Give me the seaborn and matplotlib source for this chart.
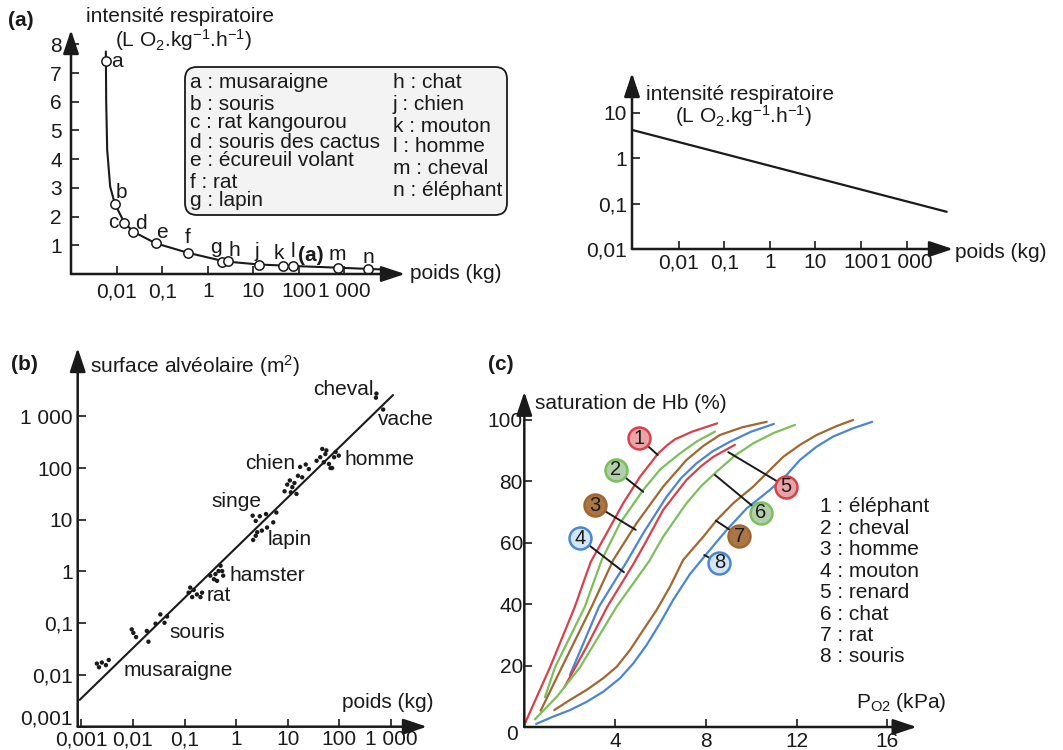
import numpy as np
import pandas as pd
import matplotlib
matplotlib.use("Agg")
import matplotlib.pyplot as plt
import seaborn as sns
from matplotlib.patches import FancyBboxPatch
from matplotlib.ticker import NullLocator
from matplotlib.transforms import IdentityTransform

# ---------------- data ----------------
# (a) left : intensite respiratoire vs poids
point_letters = ["a", "b", "c", "d", "e", "f", "g", "h", "j", "k", "l", "m", "n"]
point_poids = [0.0057, 0.009, 0.0145, 0.023, 0.071, 0.36, 2.0, 2.7, 13.5, 44, 73, 710, 3300]
point_intensite = [7.42, 2.44, 1.79, 1.47, 1.07, 0.74, 0.42, 0.46, 0.32, 0.29, 0.28, 0.22, 0.17]
curve_poids = [0.0057, 0.0058, 0.0061, 0.0071, 0.009, 0.0145, 0.023, 0.071, 0.36, 2.3, 13.5, 73, 710, 6300]
curve_intensite = [7.75, 6.0, 4.32, 3.04, 2.44, 1.79, 1.47, 1.07, 0.74, 0.44, 0.33, 0.28, 0.22, 0.16]
legend_a_left = ["a : musaraigne", "b : souris", "c : rat kangourou", "d : souris des cactus",
                 "e : écureuil volant", "f : rat", "g : lapin"]
legend_a_right = ["h : chat", "j : chien", "k : mouton", "l : homme", "m : cheval", "n : éléphant"]

# (a) right : log-log line
loglog_poids = [0.00093, 7600]
loglog_intensite = [4.2, 0.066]

# (b) surface alveolaire vs poids
b_species = (["musaraigne"] * 5 + ["souris"] * 9 + ["rat"] * 7 + ["hamster"] * 8 +
             ["singe/lapin"] * 11 + ["chien"] * 12 + ["homme"] * 12 + ["cheval"] * 2 + ["vache"])
b_poids = [0.0020, 0.0022, 0.0025, 0.0030, 0.0034,
           0.0095, 0.0102, 0.0115, 0.0186, 0.020, 0.0275, 0.034, 0.041, 0.046,
           0.129, 0.120, 0.151, 0.174, 0.204, 0.141, 0.219,
           0.316, 0.372, 0.398, 0.457, 0.50, 0.427, 0.562, 0.537,
           2.09, 2.40, 2.88, 2.57, 2.14, 3.16, 3.80, 3.98, 5.25, 6.03, 2.40,
           8.7, 9.8, 11.0, 12.3, 14.8, 13.5, 15.8, 19.1, 17.4, 22.4, 25.7, 11.5,
           36.3, 42.7, 46.8, 53.7, 50.1, 63.1, 67.6, 79.4, 85.1, 97.7, 56.2, 72.4,
           525, 513, 708]
b_surface = [0.0166, 0.0141, 0.0174, 0.0155, 0.0195,
             0.076, 0.065, 0.054, 0.071, 0.044, 0.098, 0.148, 0.102, 0.135,
             0.49, 0.39, 0.44, 0.36, 0.32, 0.32, 0.39,
             0.83, 0.71, 0.89, 1.02, 1.29, 0.66, 0.83, 1.02,
             12.0, 9.5, 11.7, 5.75, 4.07, 6.17, 12.9, 7.08, 8.91, 13.8, 4.90,
             35.5, 47.9, 57.5, 42.7, 31.6, 51.3, 70.8, 66.1, 105, 117, 95.5, 33.9,
             138, 162, 234, 186, 129, 120, 100, 162, 204, 174, 219, 100,
             2750, 2290, 1350]
b_line_poids = [0.00093, 1100]
b_line_surface = [0.0033, 2570]
b_names = ["cheval", "vache", "homme", "chien", "singe", "lapin", "hamster", "rat", "souris", "musaraigne"]
b_name_x = [464, 550, 129, 1.51, 0.33, 4.0, 0.75, 0.27, 0.05, 0.0067]
b_name_y = [3300, 870, 146, 120, 22.7, 4.07, 0.85, 0.35, 0.066, 0.0123]

# (c) saturation de Hb vs PO2
c_curves = {
    "1": ([0.0, 1.13, 2.23, 2.6, 2.93, 3.63, 4.36, 5.1, 5.9, 6.3, 6.64, 7.4, 8.5],
          [0.7, 19.4, 39.2, 47.0, 53.8, 63.1, 72.9, 81.5, 89.1, 91.8, 93.7, 96.2, 98.9]),
    "2": ([0.91, 1.35, 2.67, 3.41, 4.22, 5.24, 6.0, 6.86, 7.6, 8.4],
          [9.7, 19.4, 39.2, 54.4, 66.4, 77.2, 84.0, 89.1, 93.0, 96.2]),
    "3": ([0.72, 1.65, 2.97, 3.92, 4.95, 6.12, 7.15, 7.9, 8.62, 9.6, 10.68],
          [5.3, 19.4, 39.2, 54.4, 66.4, 78.3, 87.0, 91.6, 95.1, 97.6, 99.4]),
    "4": ([2.01, 3.29, 4.51, 5.24, 6.27, 6.9, 7.59, 8.3, 9.06, 10.0, 11.0],
          [16.9, 39.2, 53.8, 63.1, 75.0, 81.0, 85.9, 89.8, 92.9, 96.2, 98.7]),
    "5": ([1.76, 2.7, 3.66, 4.8, 5.32, 6.12, 7.15, 7.8, 8.33, 9.28],
          [12.9, 25.5, 39.2, 53.0, 59.8, 70.7, 80.5, 85.0, 88.0, 91.9]),
    "6": ([0.47, 1.45, 2.45, 4.07, 5.5, 6.12, 7.15, 7.8, 8.48, 9.3, 10.09, 11.0, 11.93],
          [2.5, 10.0, 19.4, 39.2, 54.0, 62.0, 72.9, 78.5, 83.2, 88.5, 92.4, 95.8, 98.4]),
    "7": ([1.32, 2.01, 2.75, 3.48, 4.07, 4.66, 5.24, 5.83, 6.42, 7.0, 7.89, 8.48, 9.21,
           10.09, 10.82, 11.41, 12.15, 12.88, 13.76, 14.49],
          [5.5, 8.8, 12.1, 15.9, 19.6, 25.1, 31.6, 38.1, 45.7, 54.4, 62.0, 67.4, 72.9,
           78.3, 83.7, 88.0, 91.9, 95.1, 98.0, 100.0]),
    "8": ([0.52, 1.28, 2.01, 2.75, 3.48, 4.22, 4.80, 5.39, 5.98, 6.56, 7.3, 8.18, 8.92,
           9.80, 10.82, 11.56, 12.15, 12.88, 13.61, 14.49, 15.33],
          [1.0, 3.4, 5.5, 8.2, 11.5, 15.9, 20.7, 26.7, 33.8, 41.4, 49.8, 57.7, 64.2,
           71.2, 77.2, 82.1, 87.0, 91.3, 94.6, 97.3, 99.4]),
}
c_names = ["1 : éléphant", "2 : cheval", "3 : homme", "4 : mouton",
           "5 : renard", "6 : chat", "7 : rat", "8 : souris"]
call_num = ["1", "2", "3", "4", "5", "6", "7", "8"]
call_x = [5.07, 4.03, 3.11, 2.45, 11.53, 10.41, 9.47, 8.59]
call_y = [94.0, 83.7, 72.3, 61.5, 78.3, 69.8, 62.2, 53.5]
lead_x = [5.88, 5.24, 4.91, 4.39, 8.99, 8.40, 8.44, 7.93]
lead_y = [88.6, 76.6, 64.2, 50.4, 89.5, 82.1, 67.2, 56.0]

# ---------------- style ----------------
W, H = 1063, 750
sns.set_theme(style="white")
plt.rcParams["font.family"] = ["Liberation Sans", "DejaVu Sans"]
plt.rcParams["mathtext.fontset"] = "custom"
plt.rcParams["mathtext.rm"] = "Liberation Sans"
plt.rcParams["mathtext.it"] = "Liberation Sans:italic"
plt.rcParams["mathtext.bf"] = "Liberation Sans:bold"
INK = "#1a1a1a"
FS = 15

red, green, brown, blue = "#d9414a", "#7cbf5b", "#a2672f", "#4a87d3"
curve_colors = {"1": red, "2": green, "3": brown, "4": blue,
                "5": red, "6": green, "7": brown, "8": blue}
fill_colors = {"1": "#eaa4a8", "2": "#b3ceaa", "3": "#a87647", "4": "#d5e5f6",
               "5": "#eaa4a8", "6": "#b3ceaa", "7": "#a87647", "8": "#d5e5f6"}

fig = plt.figure(figsize=(W / 100, H / 100), dpi=100)


def px_axes(x0, x1, ytop, ybot):
    return fig.add_axes([x0 / W, 1 - ybot / H, (x1 - x0) / W, (ybot - ytop) / H])


def ftext(x, y, s, **kw):
    kw.setdefault("fontsize", FS)
    kw.setdefault("va", "center")
    kw.setdefault("color", INK)
    fig.text(x / W, 1 - y / H, s, **kw)


def style(ax, padx, pady):
    for s in ax.spines.values():
        s.set_visible(False)
    ax.grid(False)
    ax.patch.set_alpha(0)
    ax.tick_params(direction="in", length=6, width=1.2, color=INK, labelsize=FS,
                   labelcolor=INK, bottom=True, left=True)
    ax.tick_params(axis="x", pad=padx)
    ax.tick_params(axis="y", pad=pady)
    ax.xaxis.set_minor_locator(NullLocator())
    ax.yaxis.set_minor_locator(NullLocator())
    ax.set_xlabel("")
    ax.set_ylabel("")
    for xy in [(1, 0), (0, 1)]:
        ax.annotate("", xy=xy, xytext=(0, 0), xycoords="axes fraction",
                    textcoords="axes fraction", annotation_clip=False,
                    arrowprops=dict(arrowstyle="-|>,head_length=0.9,head_width=0.3",
                                    lw=1.8, color=INK, shrinkA=0, shrinkB=0,
                                    mutation_scale=16))


# ---------------- (a) left ----------------
ax1 = px_axes(71, 405, 30, 274)
ax1.set_xscale("log")
ax1.set_xlim(10 ** -3.01, 10 ** 4.33)
ax1.set_ylim(0, 8.5)
sns.lineplot(x=curve_poids, y=curve_intensite, ax=ax1, color=INK, lw=1.5,
             sort=False, estimator=None)
sns.scatterplot(x=point_poids, y=point_intensite, ax=ax1, marker="o", s=45,
                facecolor="white", edgecolor=INK, linewidth=1.1, zorder=3)
ax1.set_xticks([0.01, 0.1, 1, 10, 100, 1000])
ax1.set_xticklabels(["0,01", "0,1", "1", "10", "100", "1 000"])
ax1.set_yticks(range(1, 9))
ax1.set_yticklabels([str(i) for i in range(1, 9)])
style(ax1, 6, 6.5)
letter_off = {"a": (11, 0), "b": (7, -11), "c": (-11, 0), "d": (8, -8), "e": (6, -11),
              "f": (0, -15), "g": (-6, -14), "h": (7, -10), "j": (-3, -13), "k": (-4, -12),
              "l": (0, -14), "m": (0, -13), "n": (0, -12)}
for L, w, v in zip(point_letters, point_poids, point_intensite):
    dx, dy = letter_off[L]
    ax1.annotate(L, (w, v), xytext=(dx * 0.72, -dy * 0.72), textcoords="offset points",
                 ha="center", va="center", fontsize=FS, color=INK)
ftext(8, 20, "(a)", fontweight="bold")
ftext(311, 255, "(a)", fontweight="bold", ha="center")
ftext(86, 17, "intensité respiratoire")
ftext(184, 40, r"(L O$_{\mathrm{2}}$.kg$^{-1}$.h$^{-1}$)", ha="center")
ftext(410, 274, "poids (kg)")

box = FancyBboxPatch((185, H - 215), 322, 148, boxstyle="round,pad=0,rounding_size=12",
                     transform=IdentityTransform(), facecolor="#f3f3f3",
                     edgecolor=INK, lw=1.3)
fig.add_artist(box)
for s, y in zip(legend_a_left, [83, 104, 123, 142, 161, 182, 201]):
    ftext(190, y, s)
for s, y in zip(legend_a_right, [83, 104, 126, 147, 168, 190]):
    ftext(393, y, s)

# ---------------- (a) right ----------------
ax2 = px_axes(632, 953, 73, 249)
ax2.set_xscale("log")
ax2.set_yscale("log")
ax2.set_xlim(10 ** -3.03, 10 ** 4.02)
ax2.set_ylim(0.01, 10 ** 1.876)
sns.lineplot(x=loglog_poids, y=loglog_intensite, ax=ax2, color=INK, lw=1.6,
             sort=False, estimator=None)
ax2.set_xticks([0.01, 0.1, 1, 10, 100, 1000])
ax2.set_xticklabels(["0,01", "0,1", "1", "10", "100", "1 000"])
ax2.set_yticks([0.01, 0.1, 1, 10])
ax2.set_yticklabels(["0,01", "0,1", "1", "10"])
style(ax2, 3, 3.8)
ftext(646, 95, "intensité respiratoire")
ftext(744, 116, r"(L O$_{\mathrm{2}}$.kg$^{-1}$.h$^{-1}$)", ha="center")
ftext(955, 252, "poids (kg)")

# ---------------- (b) ----------------
ax3 = px_axes(77.7, 427, 348, 726.7)
ax3.set_xscale("log")
ax3.set_yscale("log")
ax3.set_xlim(10 ** -3.07, 10 ** 3.70)
ax3.set_ylim(1e-3, 10 ** 4.32)
df_b = pd.DataFrame({"espece": b_species, "poids": b_poids, "surface": b_surface})
sns.lineplot(x=b_line_poids, y=b_line_surface, ax=ax3, color=INK, lw=1.5,
             sort=False, estimator=None)
sns.scatterplot(data=df_b, x="poids", y="surface", ax=ax3, color=INK, s=10,
                edgecolor="none", zorder=3)
ax3.set_xticks([0.001, 0.01, 0.1, 1, 10, 100, 1000])
ax3.set_xticklabels(["0,001", "0,01", "0,1", "1", "10", "100", "1 000"])
ax3.set_yticks([0.001, 0.01, 0.1, 1, 10, 100, 1000])
ax3.set_yticklabels(["", "0,01", "0,1", "1", "10", "100", "1 000"])
style(ax3, 2.5, 3.6)
# bottom y label sits just above the corner, as in the original
ftext(72.5, 719, "0,001", ha="right")
for n, x, y in zip(b_names, b_name_x, b_name_y):
    ax3.text(x, y, n, ha="right" if n == "cheval" else "left", va="center",
             fontsize=FS, color=INK)
ftext(11, 365, "(b)", fontweight="bold")
ftext(90, 366, r"surface alvéolaire (m$^{2}$)")
ftext(342, 702, "poids (kg)")

# ---------------- (c) ----------------
ax4 = px_axes(524.3, 916.7, 391.7, 727)
ax4.set_xlim(0, 17.29)
ax4.set_ylim(0, 109.2)
rows = []
for k, (xs, ys) in c_curves.items():
    for x, y in zip(xs, ys):
        rows.append((k, x, y))
df_c = pd.DataFrame(rows, columns=["courbe", "P", "S"])
sns.lineplot(data=df_c, x="P", y="S", hue="courbe", palette=curve_colors, ax=ax4,
             lw=1.6, sort=False, estimator=None, legend=False)
for n, cx, cy, lx, ly in zip(call_num, call_x, call_y, lead_x, lead_y):
    ax4.plot([cx, lx], [cy, ly], color=INK, lw=1.4, zorder=3)
    ax4.scatter([cx], [cy], s=250, facecolor=fill_colors[n], edgecolor=curve_colors[n],
                linewidth=1.8, zorder=4)
    ax4.text(cx, cy, n, ha="center", va="center", fontsize=14.5, color=INK, zorder=5)
ax4.set_xticks([4, 8, 12, 16])
ax4.set_xticklabels(["4", "8", "12", "16"])
ax4.set_yticks([0, 20, 40, 60, 80, 100])
ax4.set_yticklabels(["", "20", "40", "60", "80", "100"])
style(ax4, 3.5, 1)
ftext(512, 735, "0", ha="center")
ftext(488, 364, "(c)", fontweight="bold")
ftext(535, 404, "saturation de Hb (%)")
ftext(856, 703, r"P$_{\mathrm{O2}}$ (kPa)")
for i, s in enumerate(c_names):
    ftext(820, 507 + i * 21.4, s)

fig.savefig("out.png", dpi=100)
